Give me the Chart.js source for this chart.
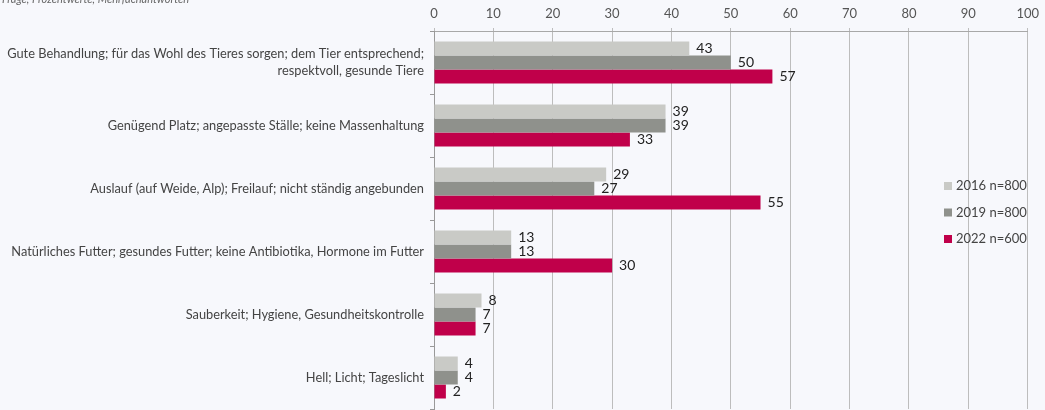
<!DOCTYPE html>
<html>
<head>
<meta charset="utf-8">
<script src="https://cdn.jsdelivr.net/npm/chart.js@4.4.0/dist/chart.umd.min.js"></script>
<style>
  html, body { margin: 0; padding: 0; background: #f7f8fc; }
  #wrap { position: relative; width: 1045px; height: 410px; }
</style>
</head>
<body>
<div id="wrap"><canvas id="chart" width="1045" height="410"></canvas></div>
<script>
// Kategorien (Antworten)
var categories = [
    ['Gute Behandlung; für das Wohl des Tieres sorgen; dem Tier entsprechend;', 'respektvoll, gesunde Tiere'],
    'Genügend Platz; angepasste Ställe; keine Massenhaltung',
    'Auslauf (auf Weide, Alp); Freilauf; nicht ständig angebunden',
    'Natürliches Futter; gesundes Futter; keine Antibiotika, Hormone im Futter',
    'Sauberkeit; Hygiene, Gesundheitskontrolle',
    'Hell; Licht; Tageslicht'
];
var seriesNames = ['2016 n=800', '2019 n=800', '2022 n=600'];
var values2016 = [43, 39, 29, 13, 8, 4];
var values2019 = [50, 39, 27, 13, 7, 4];
var values2022 = [57, 33, 55, 30, 7, 2];
var seriesColors = ['#c9cac6', '#8f918c', '#c0004a'];
var xTicks = [0, 10, 20, 30, 40, 50, 60, 70, 80, 90, 100];
var subtitle = 'Frage, Prozentwerte, Mehrfachantworten';

var fontFamily = 'Lato, "Noto Sans", sans-serif';

// Werte rechts neben den Balken
var valueLabels = {
    id: 'valueLabels',
    afterDatasetsDraw: function (chart) {
        var ctx = chart.ctx;
        ctx.save();
        ctx.font = '14px ' + fontFamily;
        ctx.fillStyle = '#222';
        ctx.textAlign = 'left';
        ctx.textBaseline = 'middle';
        chart.data.datasets.forEach(function (ds, di) {
            chart.getDatasetMeta(di).data.forEach(function (bar, i) {
                ctx.fillText(ds.data[i], bar.x + 7, bar.y);
            });
        });
        ctx.restore();
    }
};

// Legende rechts (über dem Diagramm) und Untertitel oben links
var sideLegend = {
    id: 'sideLegend',
    afterDraw: function (chart) {
        var ctx = chart.ctx;
        ctx.save();
        ctx.font = '13px ' + fontFamily;
        ctx.textBaseline = 'middle';
        ctx.textAlign = 'left';
        chart.data.datasets.forEach(function (ds, i) {
            var y = 186 + i * 26.5;
            ctx.fillStyle = ds.backgroundColor;
            ctx.fillRect(944, y - 4, 8, 8);
            ctx.fillStyle = '#444';
            ctx.fillText(ds.label, 956, y);
        });
        ctx.font = 'italic 11px ' + fontFamily;
        ctx.fillStyle = '#666';
        ctx.textBaseline = 'alphabetic';
        ctx.fillText(subtitle, 2, 3);
        ctx.restore();
    }
};

var datasets = [values2016, values2019, values2022].map(function (vals, i) {
    return {
        label: seriesNames[i],
        data: vals,
        backgroundColor: seriesColors[i],
        borderWidth: 0,
        categoryPercentage: 0.67,
        barPercentage: 1.0
    };
});

var ctx = document.getElementById('chart').getContext('2d');
var chart = new Chart(ctx, {
    type: 'bar',
    data: { labels: categories, datasets: datasets },
    plugins: [valueLabels, sideLegend],
    options: {
        indexAxis: 'y',
        responsive: false,
        animation: false,
        layout: { padding: { top: 0, right: 17, bottom: 1, left: 0 } },
        plugins: {
            legend: { display: false },
            tooltip: { enabled: false }
        },
        scales: {
            x: {
                position: 'top',
                min: 0,
                max: 100,
                afterBuildTicks: function (scale) {
                    scale.ticks = xTicks.map(function (v) { return { value: v }; });
                },
                afterFit: function (scale) { scale.height = 31; },
                grid: { color: '#bdbdbd', lineWidth: 1, tickLength: 3 },
                border: { color: '#a8a8a8' },
                ticks: {
                    font: { size: 13, family: fontFamily },
                    color: '#555',
                    padding: 6,
                    maxRotation: 0
                }
            },
            y: {
                afterFit: function (scale) {
                    scale.width = 434;
                    scale.paddingTop = 0;
                    scale.paddingBottom = 0;
                },
                grid: { drawOnChartArea: false, drawTicks: true, tickLength: 4, color: '#999', offset: true },
                border: { color: '#999' },
                ticks: {
                    font: { size: 12.8, family: fontFamily, lineHeight: 1.35 },
                    color: '#444',
                    padding: 6,
                    autoSkip: false
                }
            }
        }
    }
});
</script>
</body>
</html>
